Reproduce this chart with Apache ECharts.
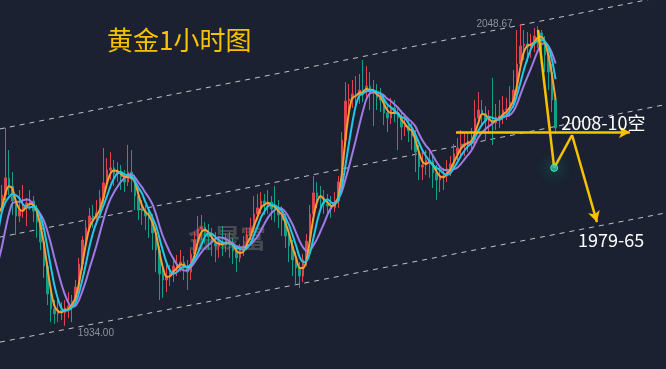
<!DOCTYPE html>
<html><head><meta charset="utf-8">
<script src="https://cdn.jsdelivr.net/npm/echarts@6/dist/echarts.min.js"></script>
<style>html,body{margin:0;padding:0;background:#1b2130}#c{width:666px;height:369px}</style>
</head><body><div id="c"></div>
<script>
// 8 pre-roll candles (off-screen, feed the moving averages) + 159 visible hourly candles
const closes = [1939.2,1938.5,1939.2,1947.6,1971.2,1977.2,1975.0,1978.0,
1983.7,1990.2,1987.1,1981.4,1975.7,1978.0,1979.1,1980.7,1981.4,1977.6,
1973.4,1965.8,1956.7,1946.1,1940.4,1938.5,1940.0,1938.9,1940.8,1941.5,
1943.4,1948.7,1957.5,1966.6,1971.2,1975.7,1975.0,1976.9,1982.6,1988.3,
1993.2,1994.0,1991.7,1992.8,1990.5,1988.6,1992.4,1989.8,1983.3,1978.4,
1977.6,1975.7,1974.6,1969.3,1962.8,1953.7,1951.4,1952.9,1954.1,1956.7,
1957.1,1958.2,1956.0,1954.4,1961.3,1966.6,1970.8,1971.5,1969.3,1967.7,
1965.5,1964.3,1965.8,1964.7,1966.2,1965.1,1962.4,1959.8,1962.8,1964.3,
1968.5,1971.2,1976.5,1978.8,1981.4,1979.9,1981.0,1978.4,1978.0,1976.1,
1974.2,1968.1,1964.3,1959.0,1956.0,1952.9,1959.0,1966.2,1976.5,1984.5,
1982.9,1982.6,1980.3,1979.5,1978.8,1981.4,1988.6,2004.6,2019.4,2020.2,
2022.1,2021.7,2023.6,2023.2,2025.1,2022.8,2022.5,2020.6,2019.8,2014.9,
2013.0,2016.8,2014.9,2013.0,2009.5,2009.9,2008.0,2006.1,2000.0,1994.3,
1995.1,1997.0,1996.6,1992.1,1989.4,1990.9,1990.9,1993.6,1995.5,1999.3,
2001.6,2003.1,2003.1,2004.2,2004.6,2013.0,2016.0,2014.5,2011.8,2011.8,
2011.1,2013.3,2013.7,2016.0,2016.4,2019.0,2023.6,2033.5,2040.3,2041.1,
2039.9,2041.5,2044.1,2045.3,2042.2,2036.9,2030.4,2019.8,2009.2];
const highs = [1941.0,1940.5,1942.0,1950.0,1973.0,1979.5,1978.5,1980.0,
1987.5,2009.2,2000.8,1992.4,1982.6,1985.6,1987.5,1982.6,1985.6,1983.3,
1979.9,1975.0,1967.4,1958.2,1947.6,1943.8,1945.7,1943.0,1943.8,1946.8,
1945.7,1951.4,1959.8,1968.1,1974.2,1978.8,1979.9,1981.8,1985.6,2001.6,
1997.8,2000.0,1997.0,1996.2,1995.1,1993.2,2002.7,2000.8,1991.3,1985.6,
1981.8,1979.9,1978.8,1976.5,1971.2,1964.3,1956.0,1958.2,1957.1,1959.8,
1960.9,1962.8,1960.5,1959.0,1962.8,1969.6,1975.7,1976.1,1973.4,1972.7,
1971.2,1969.6,1968.1,1971.9,1968.9,1969.6,1967.4,1964.3,1965.1,1968.1,
1971.2,1975.0,1983.3,1984.1,1984.8,1984.1,1985.6,1983.3,1987.1,1981.8,
1979.5,1976.5,1970.4,1966.6,1962.0,1958.2,1961.3,1968.9,1979.9,1990.9,
1988.6,1987.1,1985.6,1984.1,1983.3,1984.8,1990.9,2007.6,2026.6,2025.9,
2027.4,2028.9,2029.7,2035.0,2032.7,2030.4,2027.4,2025.9,2024.4,2022.1,
2018.3,2020.6,2019.8,2017.5,2016.0,2013.7,2013.0,2011.4,2008.4,2002.7,
2000.8,2000.8,2000.8,1998.9,1995.1,1994.7,1994.0,1997.0,1998.5,2003.1,
2005.4,2008.4,2007.3,2007.6,2009.2,2019.8,2022.8,2019.8,2017.5,2016.0,
2028.2,2018.3,2019.8,2021.3,2020.6,2025.1,2031.2,2046.4,2048.67,2046.4,
2045.6,2044.9,2047.2,2047.9,2046.4,2044.1,2039.6,2033.5,2022.1];
const lows = [1937.5,1936.8,1937.5,1938.0,1946.0,1969.5,1973.5,1974.0,
1976.5,1981.8,1983.7,1976.1,1968.5,1973.4,1975.0,1971.9,1978.0,1973.4,
1967.4,1962.8,1952.2,1941.9,1935.4,1934.7,1935.4,1936.2,1934.0,1937.0,
1935.4,1941.9,1946.8,1955.2,1964.3,1969.6,1971.2,1972.3,1975.0,1981.0,
1986.4,1989.4,1987.1,1988.6,1985.6,1984.8,1987.1,1984.8,1978.0,1974.2,
1972.3,1970.4,1967.4,1962.8,1954.4,1943.8,1944.6,1946.8,1949.1,1950.6,
1952.9,1954.4,1951.4,1947.6,1951.4,1959.0,1964.3,1966.6,1965.1,1962.8,
1960.5,1958.2,1959.8,1960.5,1962.0,1959.8,1957.5,1954.4,1958.2,1960.5,
1962.8,1966.6,1969.6,1974.2,1976.5,1976.1,1976.5,1974.2,1973.4,1971.2,
1968.1,1963.6,1958.2,1952.9,1949.5,1948.4,1950.6,1956.7,1964.3,1975.0,
1978.8,1978.0,1976.5,1975.7,1975.0,1977.2,1978.8,1986.4,2002.3,2015.2,
2016.8,2017.5,2018.3,2019.0,2019.8,2016.0,2009.9,2016.0,2015.2,2010.3,
2007.6,2010.7,2011.4,2000.8,2004.6,2006.1,2003.8,2000.8,1992.4,1989.4,
1989.4,1991.3,1990.2,1986.4,1981.8,1984.8,1985.6,1988.6,1990.9,1993.2,
1997.0,1997.8,1998.5,2000.0,2000.8,2002.3,2010.7,2009.9,2004.6,2006.9,
2002.7,2008.4,2009.2,2010.7,2012.2,2013.7,2016.8,2021.3,2031.2,2035.0,
2034.2,2035.8,2038.0,2039.6,2036.5,2030.4,2023.6,2015.2,2006.9];

const preRoll = 8;
const slotCount = 198;          // category slots (candles + empty space on the right)
const maPeriods = [3, 5, 8];
const maColors = ['#f7a030', '#22c8e6', '#a07ae6'];

const titleText = '黄金1小时图';
const watermark = '金晟富';
// trend channel (index, price)
const channelUpper = [[7.5, 2008.8], [197.5, 2059.3]];
const channelMiddle = [[7.5, 1967.7], [197.5, 2018.1]];
const channelLower = [[7.5, 1927.8], [197.5, 1976.9]];
// analyst annotations
const resistLevel = 2007.5;
const resistFrom = 137.6, resistTo = 187.2;
const pathPts = [[161.0, 2046.4], [165.6, 1994.0], [170.7, 2006.5], [177.8, 1973.4]];
const label1 = {text: '2008-10空', at: [167.6, 2011.1]};
const label2 = {text: '1979-65', at: [172.4, 1966.6]};
const hiMark = {text: '2048.67', at: [156, 2048.67]};
const loMark = {text: '1934.00', at: [26, 1934.0]};

const cats = Array.from({length: slotCount}, (_, i) => String(i));
const candles = closes.map((c, i) => [i === 0 ? c : closes[i - 1], c, lows[i], highs[i]]);
function ma(n) {
  return closes.map((c, i) => {
    if (i < n - 1) return '-';
    let s = 0; for (let j = i - n + 1; j <= i; j++) s += closes[j];
    return +(s / n).toFixed(2);
  });
}

const chart = echarts.init(document.getElementById('c'));
const yellow = '#f8c200';
const dashStyle = {color: 'rgba(235,235,235,0.8)', width: 1, type: [5, 5]};
function chan(d) {
  return {type: 'line', xAxisIndex: 1, data: d, symbol: 'none', lineStyle: dashStyle, silent: true, z: 1};
}
function seg(a, b, arrow) {
  return [{coord: a, symbol: 'none'}, {coord: b, symbol: arrow ? 'arrow' : 'none'}];
}
const series = [
  chan(channelUpper), chan(channelMiddle), chan(channelLower),
  {type: 'candlestick', data: candles, barWidth: 2, z: 2,
   itemStyle: {color: '#e0454f', color0: '#13a088', borderColor: '#e0454f', borderColor0: '#13a088', borderWidth: 1}}
];
[2, 0, 1].forEach(idx => {
  series.push({type: 'line', data: ma(maPeriods[idx]), symbol: 'none', smooth: 0.3, z: 3,
    lineStyle: {color: maColors[idx], width: 2}});
});
series.push({
  type: 'scatter', xAxisIndex: 1, z: 6, symbolSize: 7,
  data: [pathPts[1]],
  itemStyle: {color: '#1fbf9c', borderColor: '#5ff0d0', borderWidth: 1, shadowBlur: 16, shadowColor: 'rgba(30,220,180,0.9)'},
  markLine: {
    silent: true, animation: false, symbolSize: [9, 11],
    lineStyle: {color: yellow, width: 2.5, type: 'solid'},
    label: {show: false},
    data: [
      seg([resistFrom, resistLevel], [resistTo, resistLevel], true),
      seg(pathPts[0], pathPts[1], false),
      seg(pathPts[1], pathPts[2], false),
      seg(pathPts[2], pathPts[3], true)
    ]
  },
  markPoint: {
    silent: true, animation: false, symbol: 'circle', symbolSize: 0,
    data: [
      {coord: label1.at, label: {show: true, formatter: label1.text, position: 'right', distance: 0,
        color: '#ffffff', fontSize: 18, fontFamily: 'Noto Sans CJK SC'}},
      {coord: label2.at, label: {show: true, formatter: label2.text, position: 'right', distance: 0,
        color: '#ffffff', fontSize: 18, fontFamily: 'Noto Sans CJK SC'}},
      {coord: hiMark.at, label: {show: true, formatter: hiMark.text, position: 'left', distance: 8,
        color: '#8d929c', fontSize: 10, fontFamily: 'Liberation Sans'}},
      {coord: loMark.at, label: {show: true, formatter: loMark.text, position: 'right', distance: 13, offset: [0, 7],
        color: '#8d929c', fontSize: 10, fontFamily: 'Liberation Sans'}}
    ]
  }
});

chart.setOption({
  backgroundColor: '#1b2130',
  animation: false,
  title: {text: titleText, left: 107, top: 27, padding: 0,
    textStyle: {color: yellow, fontSize: 26, fontWeight: 'normal', fontFamily: 'Noto Sans CJK SC'}},
  graphic: [{type: 'text', left: 188, top: 225, z: 0, silent: true,
    style: {text: watermark, fontSize: 26, fontWeight: 'bold', fontFamily: 'Noto Sans CJK SC',
      fill: 'rgba(110,110,110,0.55)'}}],
  grid: {left: 0, right: 0, top: 0, bottom: 0, containLabel: false},
  xAxis: [
    {type: 'category', data: cats, min: preRoll, max: slotCount - 1, show: false, boundaryGap: true},
    {type: 'value', min: preRoll - 0.5, max: slotCount - 0.5, show: false}
  ],
  yAxis: {type: 'value', min: 1917.58, max: 2057.8, show: false, splitLine: {show: false}},
  series: series
});
</script></body></html>
